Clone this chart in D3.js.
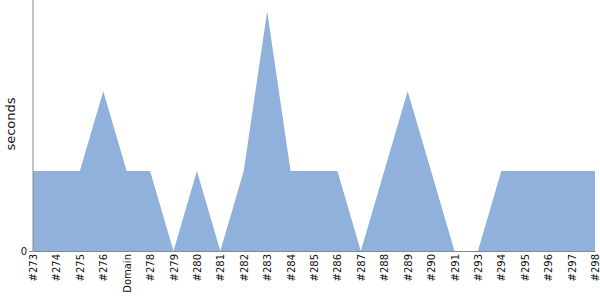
<!DOCTYPE html>
<html>
<head>
<meta charset="utf-8">
<script src="https://cdn.jsdelivr.net/npm/d3@7"></script>
<style>
  body { margin: 0; background: #fff; }
</style>
</head>
<body>
<div id="chart"></div>
<script>
// build labels and values per build
var builds = ["#273", "#274", "#275", "#276", "Domain", "#278", "#279", "#280", "#281", "#282",
              "#283", "#284", "#285", "#286", "#287", "#288", "#289", "#290", "#291", "#293",
              "#294", "#295", "#296", "#297", "#298"];
var seconds = [1, 1, 1, 2, 1, 1, 0, 1, 0, 1,
               3, 1, 1, 1, 0, 1, 2, 1, 0, 0,
               1, 1, 1, 1, 1];
var yTicks = [0];
var yMax = 3.14;

(function() {
  var margin = { top: 0, left: 33, right: 5, bottom: 49 },
      width = 600 - margin.left - margin.right,
      height = 300 - margin.top - margin.bottom;
  var font = "'DejaVu Sans', Verdana, sans-serif";

  var svg = d3.select("#chart")
    .append("svg")
    .attr("width", 600)
    .attr("height", 300)
    .append("g")
    .attr("transform", "translate(" + margin.left + "," + margin.top + ")");

  var data = builds.map(function(b, i) { return { build: b, value: seconds[i] }; });

  var xPositionScale = d3.scalePoint()
    .domain(builds)
    .range([0, width]);

  var yPositionScale = d3.scaleLinear()
    .domain([0, yMax])
    .range([height, 0]);

  var area = d3.area()
    .x(function(d) { return xPositionScale(d.build); })
    .y0(height)
    .y1(function(d) { return yPositionScale(d.value); });

  svg.append("path")
    .datum(data)
    .attr("d", area)
    .attr("fill", "#8fb1db");

  var xAxis = d3.axisBottom(xPositionScale).tickSize(0).tickPadding(3);

  var gx = svg.append("g")
    .attr("class", "x axis")
    .attr("transform", "translate(0," + height + ")")
    .call(xAxis);
  gx.attr("font-family", null).attr("font-size", null);
  gx.select(".domain").attr("stroke", "#888");
  gx.selectAll("text")
    .attr("y", 0)
    .attr("x", -3)
    .attr("dy", ".35em")
    .attr("transform", "rotate(-90)")
    .style("font-family", font)
    .style("font-size", "10px")
    .attr("fill", "#111")
    .style("text-anchor", "end");

  var yAxis = d3.axisLeft(yPositionScale)
    .tickValues(yTicks)
    .tickFormat(d3.format("d"))
    .tickSize(4)
    .tickPadding(2);

  var gy = svg.append("g")
    .attr("class", "y axis")
    .call(yAxis);
  gy.attr("font-family", null).attr("font-size", null);
  gy.select(".domain").attr("stroke", "#888").attr("d", "M0," + height + "V0");
  gy.selectAll(".tick line").attr("stroke", "#888");
  gy.selectAll(".tick text")
    .style("font-family", font)
    .style("font-size", "10px")
    .attr("fill", "#111");

  svg.append("text")
    .attr("transform", "rotate(-90)")
    .attr("x", -124)
    .attr("y", -18)
    .style("text-anchor", "middle")
    .style("font-family", font)
    .style("font-size", "13px")
    .attr("fill", "#111")
    .text("seconds");
})();
</script>
</body>
</html>
